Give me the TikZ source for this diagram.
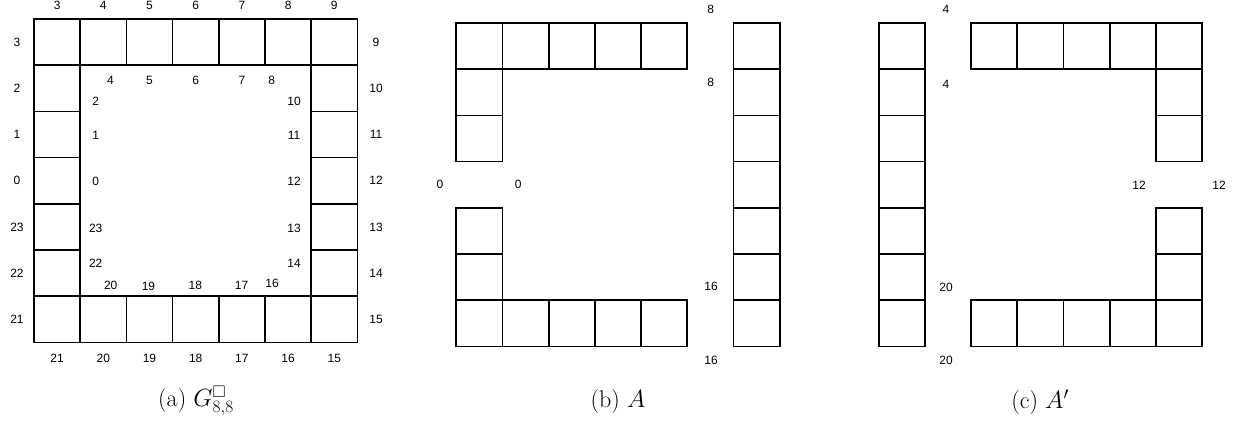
\documentclass[tikz,border=0pt]{standalone}
\usepackage{amssymb}
\usepackage{fontspec}
\newfontfamily\lblfont{Liberation Sans}
\tikzset{
  cell/.style={draw, line width=1.7pt, minimum size=46.2pt, inner sep=0pt, shape=rectangle},
  lbl/.style={font=\lblfont\fontsize{12}{13}\selectfont, inner sep=0pt},
  captxt/.style={font=\fontsize{24}{28}\selectfont, inner sep=0pt}
}
\begin{document}
\begin{tikzpicture}[x=1pt,y=-1pt]
\useasboundingbox (0,0) rectangle (1237,425);
% ---------- panel (a)
\def\AX{34}\def\AY{19}
\foreach \c in {0,...,6}{
  \node[cell] (a-\c-0) at (\AX+46.2*\c+23.1, \AY+23.1) {};
  \node[cell] (a-\c-6) at (\AX+46.2*\c+23.1, \AY+46.2*6+23.1) {};
}
\foreach \r in {1,...,5}{
  \node[cell] (a-0-\r) at (\AX+23.1, \AY+46.2*\r+23.1) {};
  \node[cell] (a-6-\r) at (\AX+46.2*6+23.1, \AY+46.2*\r+23.1) {};
}
% outer labels
\foreach \t [count=\i from 0] in {3,4,5,6,7,8,9}{
  \node[lbl] (at\i) at (\AX+46.2*\i+23.1, 5) {\t};
}
\foreach \t [count=\i from 0] in {21,20,19,18,17,16,15}{
  \node[lbl] (ab\i) at (\AX+46.2*\i+23.1, 358) {\t};
}
\foreach \t [count=\i from 0] in {3,2,1,0,23,22,21}{
  \node[lbl] (al\i) at (17, \AY+46.2*\i+23.1) {\t};
}
\foreach \t [count=\i from 0] in {9,10,11,12,13,14,15}{
  \node[lbl] (ar\i) at (376, \AY+46.2*\i+23.1) {\t};
}
% inner labels
\node[lbl] (it4) at (110.5,80) {4};
\node[lbl] (it5) at (149.5,80) {5};
\node[lbl] (it6) at (195.7,80) {6};
\node[lbl] (it7) at (241.9,80) {7};
\node[lbl] (it8) at (271.7,80) {8};
\node[lbl] (il2) at (95.7,101.7) {2};
\node[lbl] (il1) at (95.7,135) {1};
\node[lbl] (il0) at (95.7,181) {0};
\node[lbl] (il23) at (95.7,228) {23};
\node[lbl] (il22) at (95.7,263) {22};
\node[lbl] (ir10) at (294,101.7) {10};
\node[lbl] (ir11) at (294,135) {11};
\node[lbl] (ir12) at (294,181) {12};
\node[lbl] (ir13) at (294,228) {13};
\node[lbl] (ir14) at (294,263) {14};
\node[lbl] (ib20) at (110.7,285) {20};
\node[lbl] (ib19) at (148.5,286) {19};
\node[lbl] (ib18) at (195.3,285) {18};
\node[lbl] (ib17) at (241.5,285) {17};
\node[lbl] (ib16) at (272,283) {16};
\node[captxt] (capa) at (196,401) {(a) $G^{\square}_{8,8}$};
% ---------- panel (b)
\def\BX{456.3}\def\BY{23}
\foreach \c in {0,...,4}{
  \node[cell] (b-\c-0) at (\BX+46.2*\c+23.1, \BY+23.1) {};
  \node[cell] (b-\c-6) at (\BX+46.2*\c+23.1, \BY+46.2*6+23.1) {};
}
\foreach \r in {1,2,4,5}{
  \node[cell] (b-0-\r) at (\BX+23.1, \BY+46.2*\r+23.1) {};
}
\foreach \r in {0,...,6}{
  \node[cell] (b-6-\r) at (\BX+46.2*6+23.1, \BY+46.2*\r+23.1) {};
}
\node[lbl] (b8a) at (710.7,9.3) {8};
\node[lbl] (b8b) at (710.7,82.7) {8};
\node[lbl] (b0a) at (440,184.3) {0};
\node[lbl] (b0b) at (518.3,184.3) {0};
\node[lbl] (b16a) at (711,286.7) {16};
\node[lbl] (b16b) at (711,360.7) {16};
\node[captxt] (capb) at (618,402) {(b) $A$};
% ---------- panel (c)
\def\CX{878.7}\def\CY{23}
\foreach \c in {2,...,6}{
  \node[cell] (c-\c-0) at (\CX+46.2*\c+23.1, \CY+23.1) {};
  \node[cell] (c-\c-6) at (\CX+46.2*\c+23.1, \CY+46.2*6+23.1) {};
}
\foreach \r in {1,2,4,5}{
  \node[cell] (c-6-\r) at (\CX+46.2*6+23.1, \CY+46.2*\r+23.1) {};
}
\foreach \r in {0,...,6}{
  \node[cell] (c-0-\r) at (\CX+23.1, \CY+46.2*\r+23.1) {};
}
\node[lbl] (c4a) at (946,9.3) {4};
\node[lbl] (c4b) at (946,84) {4};
\node[lbl] (c12a) at (1139,185) {12};
\node[lbl] (c12b) at (1219,185) {12};
\node[lbl] (c20a) at (946,287.3) {20};
\node[lbl] (c20b) at (946,360.7) {20};
\node[captxt] (capc) at (1040,402) {(c) $A'$};
\end{tikzpicture}
\end{document}
